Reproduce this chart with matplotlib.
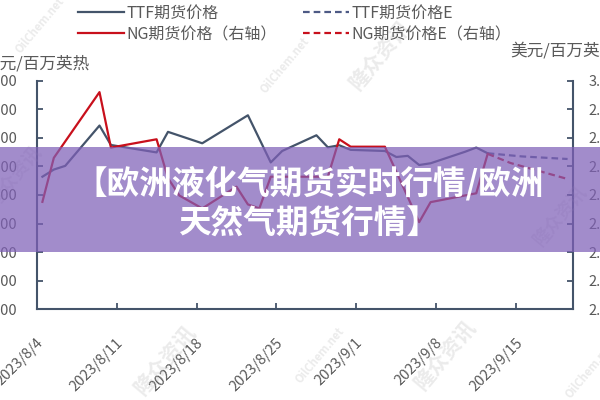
import matplotlib
matplotlib.use('Agg')
import matplotlib.pyplot as plt
import matplotlib.transforms as mtransforms
from matplotlib.patches import Rectangle
import pandas as pd

plt.rcParams['font.family'] = ['Noto Sans CJK SC', 'DejaVu Sans']

# TTF期货价格 (左轴, 美元/百万英热)
ttf_dates = ['2023-08-04', '2023-08-05', '2023-08-06', '2023-08-09', '2023-08-10',
             '2023-08-14', '2023-08-15', '2023-08-18', '2023-08-22', '2023-08-24',
             '2023-08-25', '2023-08-28', '2023-08-29', '2023-08-30', '2023-08-31',
             '2023-09-03', '2023-09-04', '2023-09-05', '2023-09-06', '2023-09-07',
             '2023-09-10', '2023-09-11', '2023-09-12']
ttf_vals = [9.64, 9.89, 10.02, 11.43, 10.75, 10.49, 11.21, 10.81, 11.79, 10.14,
            10.54, 11.09, 10.67, 10.74, 10.58, 10.54, 10.33, 10.37, 10.05, 10.11,
            10.51, 10.66, 10.46]
# TTF期货价格E (预估)
ttf_e_dates = ['2023-09-12', '2023-09-15', '2023-09-19']
ttf_e_vals = [10.46, 10.35, 10.26]

# NG期货价格 (右轴)
ng_dates = ['2023-08-04', '2023-08-05', '2023-08-09', '2023-08-10', '2023-08-14',
            '2023-08-15', '2023-08-16', '2023-08-18', '2023-08-21', '2023-08-22',
            '2023-08-23', '2023-08-24', '2023-08-29', '2023-08-30', '2023-08-31',
            '2023-09-03', '2023-09-06', '2023-09-07', '2023-09-11', '2023-09-12']
ng_vals = [2.576, 2.730, 2.960, 2.766, 2.795, 2.659, 2.598, 2.553, 2.629, 2.567,
           2.553, 2.664, 2.664, 2.795, 2.769, 2.769, 2.505, 2.575, 2.606, 2.744]
# NG期货价格E (预估)
ng_e_dates = ['2023-09-12', '2023-09-14', '2023-09-19']
ng_e_vals = [2.744, 2.712, 2.656]

left_ticks = [5, 6, 7, 8, 9, 10, 11, 12, 13]
right_ticks = [2.2, 2.3, 2.4, 2.5, 2.6, 2.7, 2.8, 2.9, 3.0]
x_ticks = ['2023-08-04', '2023-08-11', '2023-08-18', '2023-08-25',
           '2023-09-01', '2023-09-08', '2023-09-15']

c_ttf = '#44546a'
c_ng = '#c8101c'
c_axis = '#44546a'
c_txt = '#595959'

def to_x(d):
    # 点画在每天的中间
    return pd.to_datetime(d) + pd.Timedelta(hours=12)

fig = plt.figure(figsize=(6, 4), dpi=100)
ax = fig.add_axes([36.7 / 600, 1 - 309.3 / 400, 536.6 / 600, 228.6 / 400])
ax2 = ax.twinx()

l1, = ax.plot(to_x(ttf_dates), ttf_vals, color=c_ttf, lw=1.6, label='TTF期货价格')
l3, = ax.plot(to_x(ttf_e_dates), ttf_e_vals, color='#4d5a85', lw=1.6,
              ls=(0, (3, 1.8)), label='TTF期货价格E')
l2, = ax2.plot(to_x(ng_dates), ng_vals, color=c_ng, lw=1.6, label='NG期货价格（右轴）')
l4, = ax2.plot(to_x(ng_e_dates), ng_e_vals, color=c_ng, lw=1.6,
               ls=(0, (3, 1.8)), label='NG期货价格E（右轴）')

ax.set_xlim(pd.Timestamp('2023-08-04'), pd.Timestamp('2023-09-20'))
ax.set_ylim(5, 13)
ax2.set_ylim(2.2, 3.0)
ax.set_yticks(left_ticks)
ax.set_yticklabels(['%.2f' % v for v in left_ticks])
ax2.set_yticks(right_ticks)
ax2.set_yticklabels(['%.2f' % v for v in right_ticks])
xt = pd.to_datetime(x_ticks)
ax.set_xticks(xt)
ax.set_xticklabels(['%d/%d/%d' % (d.year, d.month, d.day) for d in xt],
                   rotation=45, ha='right')

for a in (ax, ax2):
    a.spines['top'].set_visible(False)
    for s in ('left', 'right', 'bottom'):
        a.spines[s].set_color(c_axis)
        a.spines[s].set_linewidth(1.5)
    a.tick_params(direction='in', length=4, width=1.3, color=c_axis,
                  labelcolor=c_txt, labelsize=10.5)
ax.spines['right'].set_visible(False)
ax2.spines['left'].set_visible(False)
ax2.spines['bottom'].set_visible(False)
ax.tick_params(axis='y', pad=14)
ax2.tick_params(axis='y', pad=11)
ax.tick_params(axis='x', pad=19)

offset = mtransforms.ScaledTranslation(9 / 100, 0, fig.dpi_scale_trans)
for lab in ax.get_xticklabels():
    lab.set_transform(lab.get_transform() + offset)

# 单位
fig.text(90 / 600, 1 - 64 / 400, '美元/百万英热', ha='right', va='center',
         fontsize=12, color=c_txt)
fig.text(510 / 600, 1 - 51 / 400, '美元/百万英热', ha='left', va='center',
         fontsize=12, color=c_txt)

# 图例
fig.legend(handles=[l1, l2, l3, l4], ncol=2, loc='upper left',
           bbox_to_anchor=(78 / 600, 1 - 5 / 400), frameon=False,
           fontsize=11.5, handlelength=2.9, handletextpad=0.15,
           columnspacing=1.6, labelspacing=0.25, borderpad=0, borderaxespad=0,
           labelcolor=c_txt)

# 水印
for (wx, wy, s, fs) in [(380, 55, '隆众资讯', 15), (165, 360, '隆众资讯', 15),
                        (445, 355, '隆众资讯', 15), (560, 215, '隆众资讯', 13),
                        (15, 175, '隆众资讯', 13), (40, 25, 'OilChem.net', 8),
                        (320, 355, 'OilChem.net', 8), (590, 370, 'OilChem.net', 8),
                        (285, 65, 'OilChem.net', 8)]:
    fig.text(wx / 600, 1 - wy / 400, s, rotation=50, ha='center', va='center',
             fontsize=fs, fontweight='bold', color='#b0b0b0', alpha=0.25)

# 紫色横幅
fig.patches.append(Rectangle((0, 1 - 252 / 400), 1, 105 / 400,
                             transform=fig.transFigure, facecolor='#7f60b8',
                             alpha=0.72, edgecolor='none', zorder=5))
fig.text(0.515, 1 - 183 / 400, '【欧洲液化气期货实时行情/欧洲', ha='center',
         va='center', fontsize=23.5, fontweight='heavy', color='white', zorder=6)
fig.text(0.515, 1 - 224 / 400, '天然气期货行情】', ha='center',
         va='center', fontsize=23.5, fontweight='heavy', color='white', zorder=6)

fig.savefig('out.png', dpi=100)
